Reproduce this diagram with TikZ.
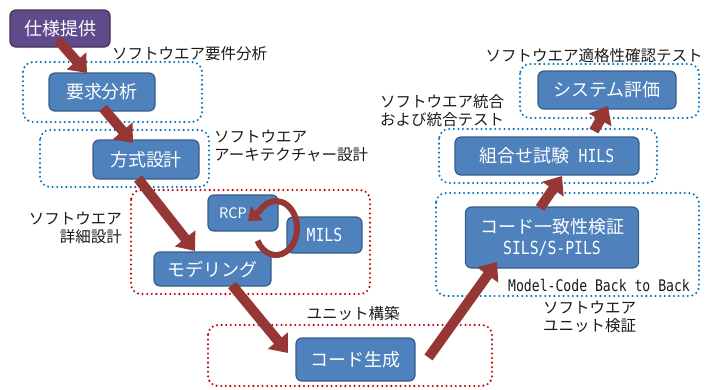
\documentclass[tikz,border=0pt]{standalone}
\usepackage{fontspec}
\setmainfont{Noto Sans CJK JP}
\newfontfamily\monofont[FakeStretch=0.82]{DejaVu Sans Mono}
\usetikzlibrary{arrows.meta,calc}
\definecolor{boxblue}{HTML}{4F81BD}
\definecolor{boxedge}{HTML}{385D8A}
\definecolor{purp}{HTML}{5F4B8B}
\definecolor{purpedge}{HTML}{3F3151}
\definecolor{arrowred}{HTML}{953735}
\definecolor{dotblue}{HTML}{0070C0}
\definecolor{dotred}{HTML}{C00000}
\definecolor{labeltext}{HTML}{1A1A1A}
\tikzset{
  box/.style={draw=boxedge, line width=1.2pt, fill=boxblue, rounded corners=6pt,
    text=white, font=\fontsize{18}{21}\selectfont, inner sep=0pt, align=center},
  bigarrow/.style={draw=arrowred, line width=10pt, -{Triangle[width=25pt,length=16pt]}},
  looparrow/.style={draw=arrowred, line width=6pt, -{Triangle[width=18pt,length=12pt]}},
  dotbox/.style={line width=2.3pt, dash pattern=on 0pt off 4.6pt, line cap=round, rounded corners=10pt},
  lbl/.style={font=\fontsize{15.5}{18}\selectfont, text=labeltext, inner sep=0pt},
}
\begin{document}
\begin{tikzpicture}[x=1pt,y=-1pt]
\useasboundingbox (0,0) rectangle (716,389);
% grouping frames
\draw[dotbox, dotblue] (23,62) rectangle (202,122);
\draw[dotbox, dotblue] (40,130) rectangle (209,187);
\draw[dotbox, dotred] (131,190) rectangle (370,294);
\draw[dotbox, dotred] (208,325) rectangle (492,386);
\draw[dotbox, dotblue] (436,193) rectangle (699,296);
\draw[dotbox, dotblue] (439,129) rectangle (657,183);
\draw[dotbox, dotblue] (520,64) rectangle (699,118);
% labels
\node[lbl, anchor=west] (l1) at (112,54) {ソフトウエア要件分析};
\node[lbl, anchor=west, align=left] (l2) at (214,146) {ソフトウエア\\アーキテクチャー設計};
\node[lbl, anchor=east, align=right] (l3) at (122,227.5) {ソフトウエア\\詳細設計};
\node[lbl] (l4) at (353,314) {ユニット構築};
\node[lbl, anchor=west, align=left] (l5) at (380,110.5) {ソフトウエア統合\\および統合テスト};
\node[lbl] (l6) at (594,56) {ソフトウエア適格性確認テスト};
\node[lbl, anchor=west, align=left] (l7) at (543,316.5) {ソフトウエア\\ユニット検証};
\node[inner sep=0pt, anchor=west, text=labeltext, font=\monofont\fontsize{16}{19}\selectfont] (b2b) at (508,285) {Model-Code Back to Back};
% process boxes
\node[box, fill=purp, draw=purpedge, minimum width=100pt, minimum height=37pt] (spec) at (60,28.5) {仕様提供};
\node[box, minimum width=106pt, minimum height=38pt] (req) at (102,92) {要求分析};
\node[box, minimum width=106pt, minimum height=39pt] (arch) at (146,159.5) {方式設計};
\node[box, minimum width=70pt, minimum height=36pt, font=\fontsize{14.5}{17}\selectfont] (rcp) at (243,213) {RCP\hspace*{20pt}};
\node[box, minimum width=75pt, minimum height=36pt, font=\monofont\fontsize{18}{21}\selectfont] (mils) at (324.5,235) {MILS};
\node[box, minimum width=117pt, minimum height=34pt] (model) at (212.5,269) {モデリング};
\node[box, minimum width=119pt, minimum height=43pt] (code) at (355.5,359.5) {コード生成};
\node[box, minimum width=173pt, minimum height=61pt] (cons) at (552,237.5) {コード一致性検証\\{\monofont SILS/S-PILS}};
\node[box, minimum width=184pt, minimum height=38pt] (hils) at (547,156) {組合せ試験{\monofont\ HILS}};
\node[box, minimum width=138pt, minimum height=38pt] (sys) at (607,90) {システム評価};
% flow arrows
\draw[bigarrow] ($(spec.center)+(-2,11.5)$) -- ($(req.center)+(-15,-19)$);
\draw[bigarrow] ($(req.center)+(1,16)$) -- ($(arch.center)+(-13,-16.5)$);
\draw[bigarrow] ($(arch.center)+(-8,19)$) -- ($(model.center)+(-17.5,-18)$);
\draw[bigarrow] ($(model.center)+(19.5,16)$) -- ($(code.center)+(-67.5,-6.5)$);
\draw[bigarrow] ($(code.center)+(73,-2)$) -- ($(cons.center)+(-55,24.5)$);
\draw[bigarrow] ($(cons.center)+(-12,-29.5)$) -- ($(hils.center)+(15,20)$);
\draw[bigarrow] ($(hils.center)+(47,-25)$) -- ($(sys.center)+(1,16)$);
% iteration loop
\coordinate (loopc) at ($(rcp.center)!0.5!(mils.center)+(-7.75,4)$);
\draw[looparrow] ($(loopc)+(-18.5,12.7)$) arc[start angle=152, end angle=-140, x radius=21, y radius=27] -- ++(-12,10.4);
\end{tikzpicture}
\end{document}
